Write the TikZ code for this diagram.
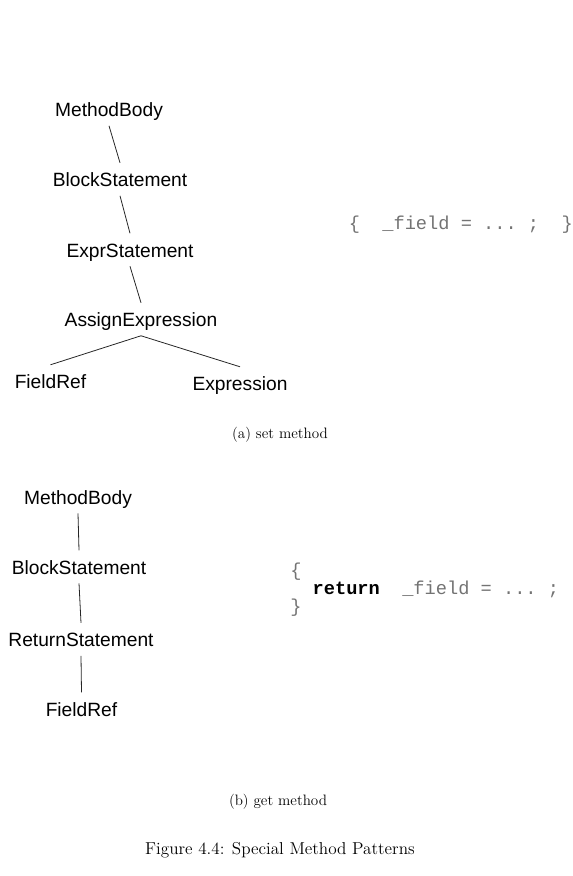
\documentclass[tikz,border=0pt]{standalone}
\usepackage{fontspec}
\newfontfamily\treefont{Liberation Sans}
\newfontfamily\codefont{Liberation Mono}
\definecolor{codegray}{RGB}{115,115,115}

\begin{document}
\begin{tikzpicture}[x=0.75pt, y=-0.75pt,
  tnode/.style={anchor=base, inner sep=0pt, font=\treefont\fontsize{14.4}{17}\selectfont,
    text height=17.6pt, text depth=6.75pt},
  code/.style={anchor=base west, inner sep=0pt, text=codegray, font=\codefont\fontsize{14}{17}\selectfont},
  subcap/.style={anchor=base, inner sep=0pt, font=\fontsize{11.3}{13}\selectfont},
  figcap/.style={anchor=base, inner sep=0pt, font=\fontsize{12.9}{15}\selectfont},
  edge/.style={draw=black!85, line width=0.6pt}]
  \useasboundingbox (0,0) rectangle (573,876);
  % (a) set method: tree on the left, code on the right
  \node[tnode] (a1) at (109,116.5) {MethodBody};
  \node[tnode] (a2) at (120,186.5) {BlockStatement};
  \node[tnode] (a3) at (130,257) {ExprStatement};
  \node[tnode] (a4) at (141,326.5) {AssignExpression};
  \node[tnode] (a5) at (50.5,388.5) {FieldRef};
  \node[tnode] (a6) at (240,390.5) {Expression};
  \draw[edge] (a1.south) -- (a2.north);
  \draw[edge] (a2.south) -- (a3.north);
  \draw[edge] (a3.south) -- (a4.north);
  \draw[edge] (a4.south) -- (a5.north);
  \draw[edge] (a4.south) -- (a6.north);
  \node[code] (acode) at (348.5,229) {\{~~\_field~=~...~;~~\}};
  \node[subcap] (acap) at (280,438) {(a) set method};
  % (b) get method
  \node[tnode] (b1) at (78,504) {MethodBody};
  \node[tnode] (b2) at (79,574) {BlockStatement};
  \node[tnode] (b3) at (81,646.5) {ReturnStatement};
  \node[tnode] (b4) at (81.5,716) {FieldRef};
  \draw[edge] (b1.south) -- (b2.north);
  \draw[edge] (b2.south) -- (b3.north);
  \draw[edge] (b3.south) -- (b4.north);
  \node[code] (bopen) at (290,576) {\{};
  \node[code] (bret) at (290,594) {~~\textcolor{black}{\bfseries return}~~\_field~=~...~;};
  \node[code] (bclose) at (290,612) {\}};
  \node[subcap] (bcap) at (278,805) {(b) get method};
  % caption
  \node[figcap] (fig) at (280,854) {Figure 4.4: Special Method Patterns};
\end{tikzpicture}
\end{document}
